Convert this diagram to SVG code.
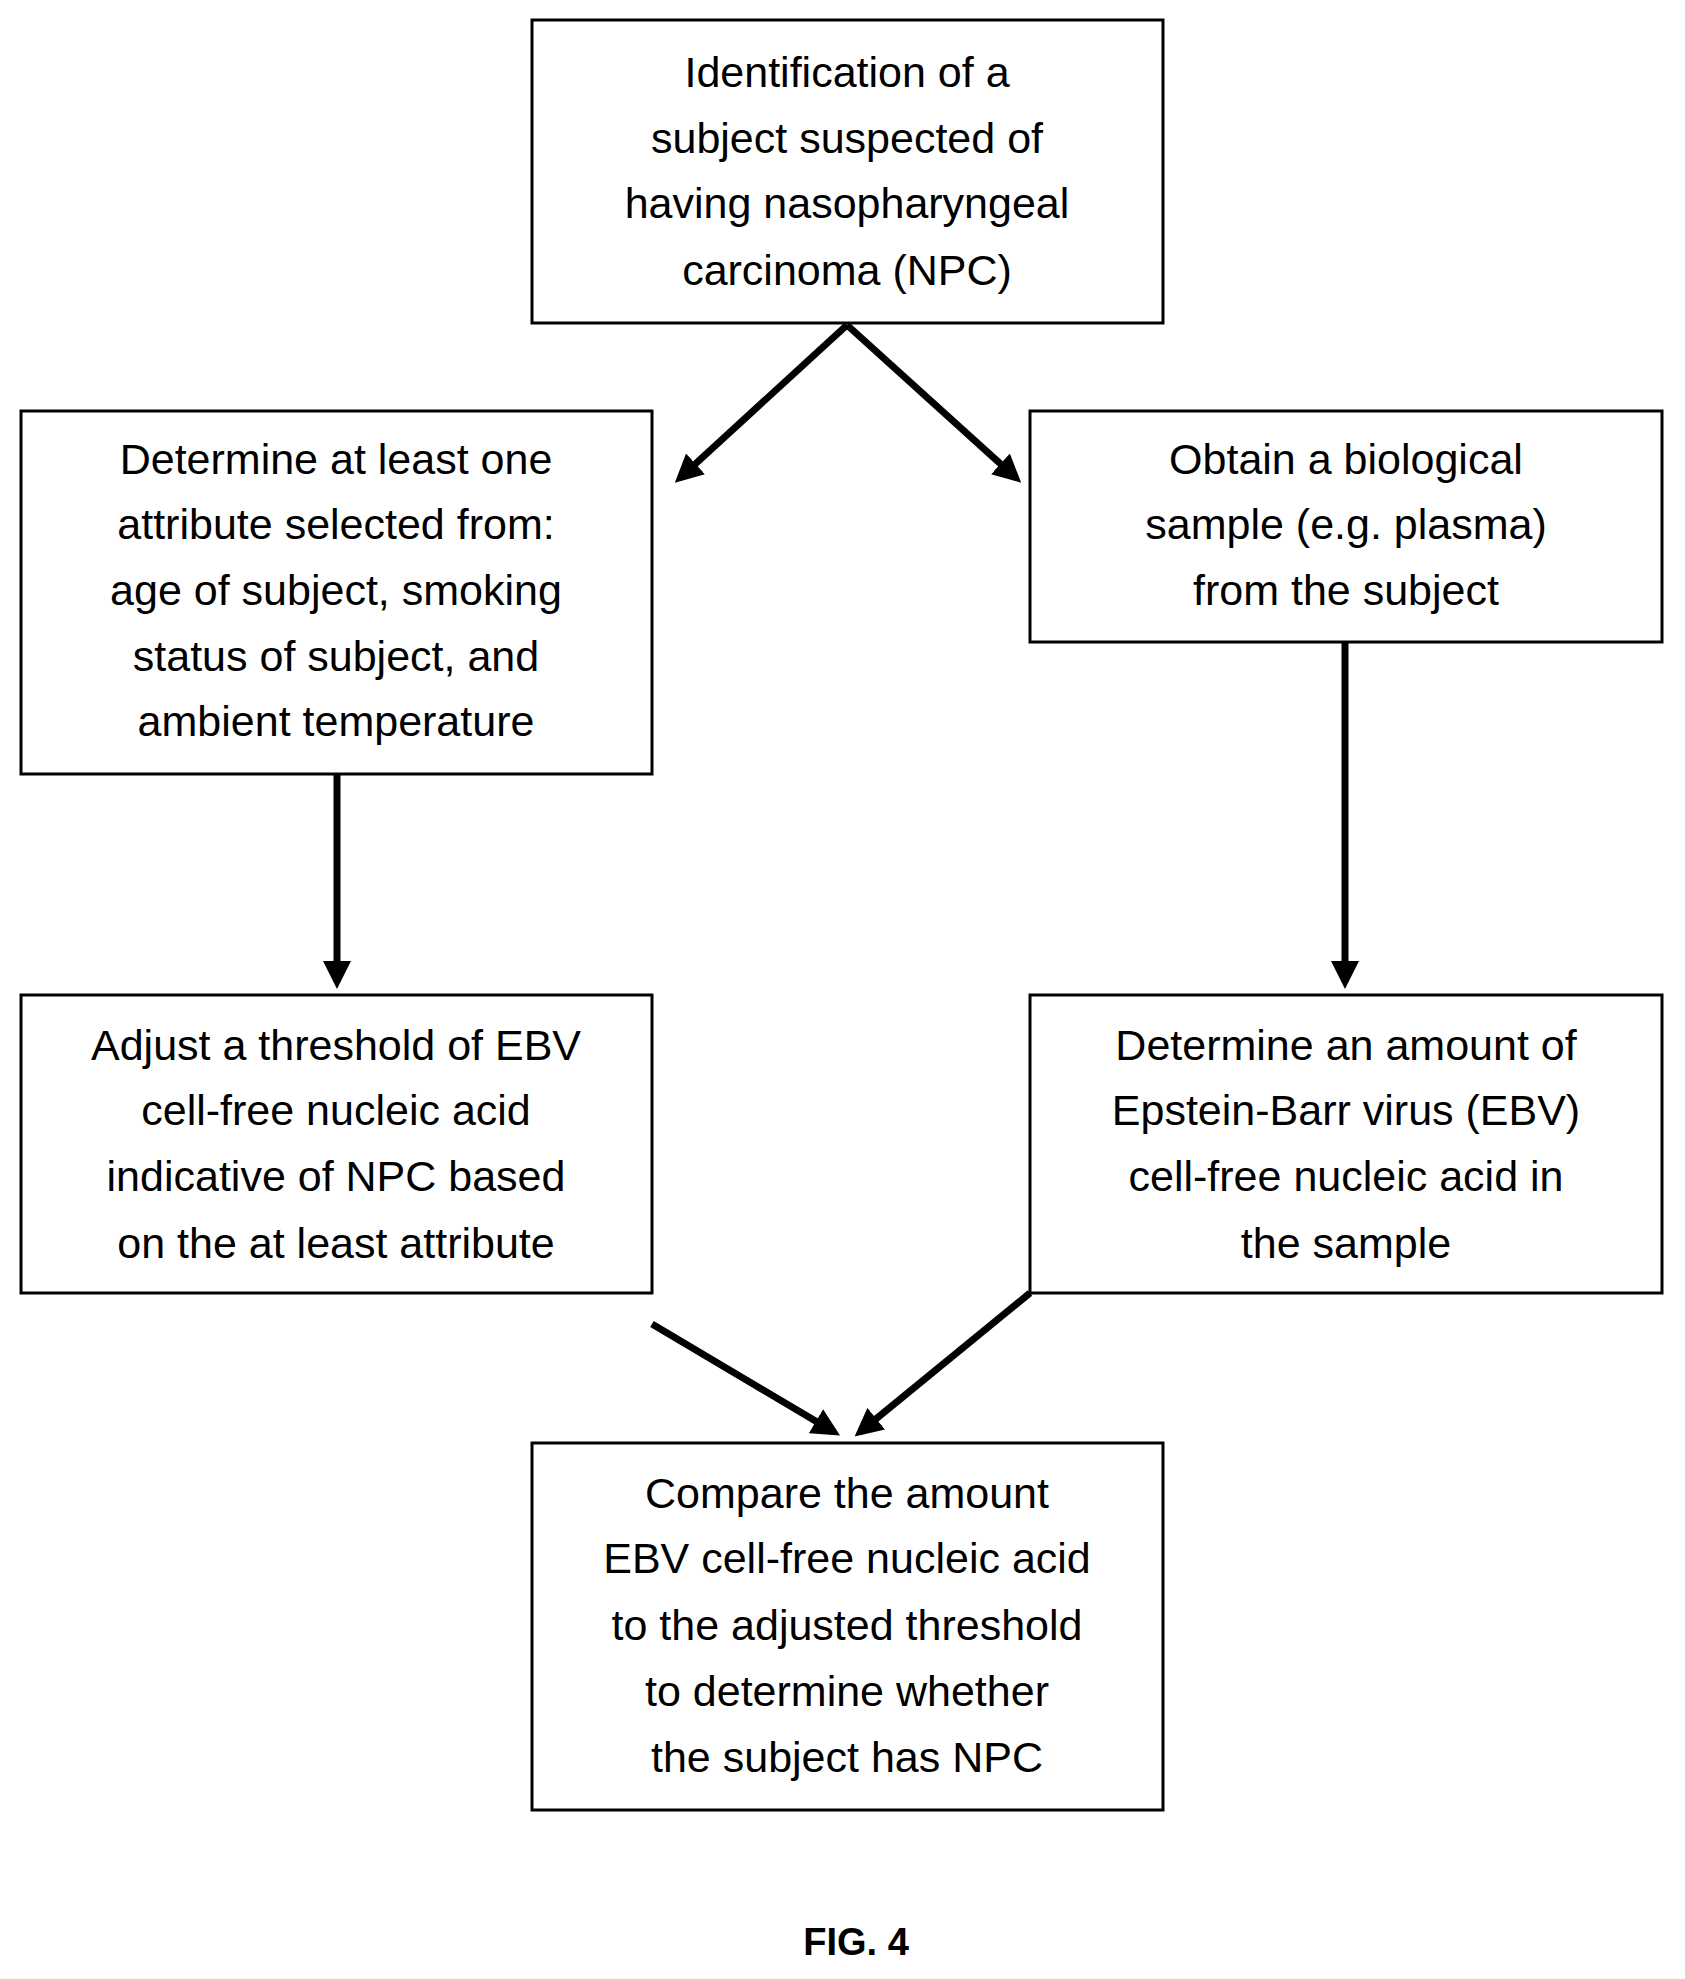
<svg xmlns="http://www.w3.org/2000/svg" width="1685" height="1979" viewBox="0 0 1685 1979">
<style>
.b{fill:#fff;stroke:#000;stroke-width:3}
text{font-family:"Liberation Sans",Arial,sans-serif;font-size:43px;text-anchor:middle;fill:#000}
.c{stroke:#000;stroke-width:7;fill:none;marker-end:url(#a)}
</style>
<defs><marker id="a" markerWidth="4" markerHeight="4" refX="3" refY="2" orient="auto"><path d="M0,0L4,2L0,4z" fill="#000"/></marker></defs>
<rect width="1685" height="1979" fill="#fff"/>
<g id="connectors">
<path class="c" d="M847,325L680,478"/>
<path class="c" d="M847,325L1016,478"/>
<path class="c" d="M337,774V982"/>
<path class="c" d="M1345,642V982"/>
<path class="c" d="M652,1324L834,1432"/>
<path class="c" d="M1030,1293L860,1432"/>
</g>
<g id="n1"><rect class="b" x="532" y="20" width="631" height="303"/>
<text x="847" y="87">Identification of a</text><text x="847" y="153">subject suspected of</text><text x="847" y="218">having nasopharyngeal</text><text x="847" y="285">carcinoma (NPC)</text></g>
<g id="n2"><rect class="b" x="21" y="411" width="631" height="363"/>
<text x="336" y="474">Determine at least one</text><text x="336" y="539">attribute selected from:</text><text x="336" y="605">age of subject, smoking</text><text x="336" y="671">status of subject, and</text><text x="336" y="736">ambient temperature</text></g>
<g id="n3"><rect class="b" x="1030" y="411" width="632" height="231"/>
<text x="1346" y="474">Obtain a biological</text><text x="1346" y="539">sample (e.g. plasma)</text><text x="1346" y="605">from the subject</text></g>
<g id="n4"><rect class="b" x="21" y="995" width="631" height="298"/>
<text x="336" y="1060">Adjust a threshold of EBV</text><text x="336" y="1125">cell-free nucleic acid</text><text x="336" y="1191">indicative of NPC based</text><text x="336" y="1258">on the at least attribute</text></g>
<g id="n5"><rect class="b" x="1030" y="995" width="632" height="298"/>
<text x="1346" y="1060">Determine an amount of</text><text x="1346" y="1125">Epstein-Barr virus (EBV)</text><text x="1346" y="1191">cell-free nucleic acid in</text><text x="1346" y="1258">the sample</text></g>
<g id="n6"><rect class="b" x="532" y="1443" width="631" height="367"/>
<text x="847" y="1508">Compare the amount</text><text x="847" y="1573">EBV cell-free nucleic acid</text><text x="847" y="1640">to the adjusted threshold</text><text x="847" y="1706">to determine whether</text><text x="847" y="1772">the subject has NPC</text></g>
<text x="856" y="1955" style="font-weight:bold;font-size:38px">FIG. 4</text>
</svg>
